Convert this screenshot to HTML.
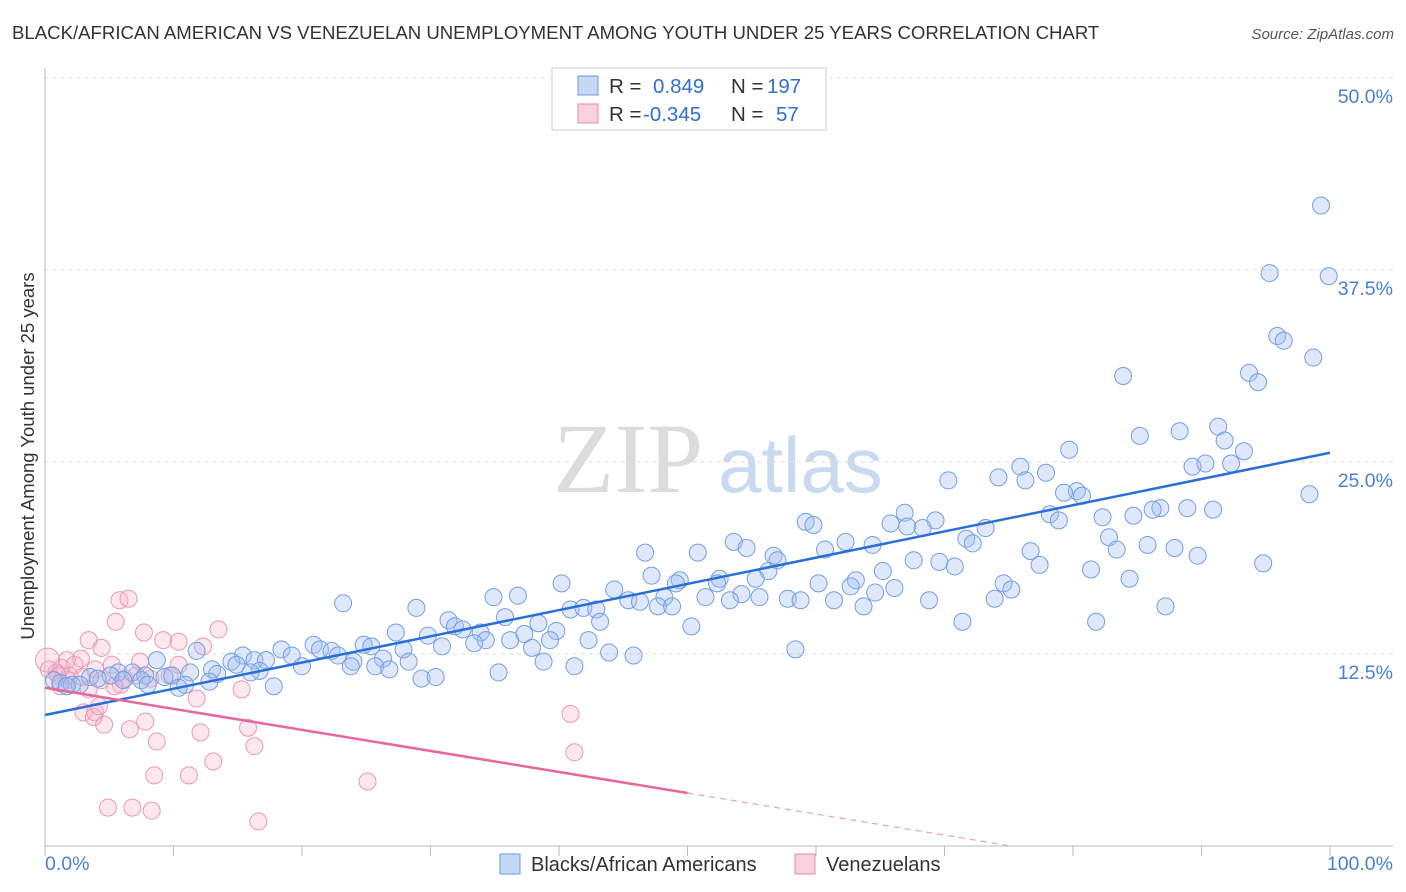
<!DOCTYPE html>
<html><head><meta charset="utf-8">
<style>
body{margin:0;background:#fff;font-family:"Liberation Sans",sans-serif;}
#wrap{position:relative;width:1406px;height:892px;overflow:hidden;}
</style></head>
<body>
<div id="wrap">
<svg id="svg" width="1406" height="892" xmlns="http://www.w3.org/2000/svg">
<text x="12" y="39" font-size="18.6" fill="#333">BLACK/AFRICAN AMERICAN VS VENEZUELAN UNEMPLOYMENT AMONG YOUTH UNDER 25 YEARS CORRELATION CHART</text>
<text x="1394" y="39" font-size="15" fill="#555" font-style="italic" text-anchor="end">Source: ZipAtlas.com</text>
<g id="watermark">
<text x="553" y="492" font-size="100" font-family="Liberation Serif,serif" fill="#dcdcdc">ZIP</text>
<text x="718" y="492" font-size="78" fill="#c9d9f0">atlas</text>
</g>
<g id="grid"></g>
<g id="axes"></g>
<g id="pts"></g>
<g id="lines"></g>
<text transform="translate(34,456) rotate(-90)" font-size="18.5" fill="#333" text-anchor="middle">Unemployment Among Youth under 25 years</text>
<g>
<rect x="552" y="68" width="274" height="62" fill="#fff" stroke="#ccc"/>
<rect x="578" y="76" width="20" height="19" fill="rgba(160,190,240,0.6)" stroke="#6a9ae0"/>
<rect x="578" y="104" width="20" height="19" fill="rgba(245,180,200,0.6)" stroke="#e88aa8"/>
<text x="609" y="93" font-size="20.5" fill="#333">R = </text><text x="653" y="93" font-size="20.5" fill="#2f6fd0">0.849</text>
<text x="731" y="93" font-size="20.5" fill="#333">N = </text><text x="767" y="93" font-size="20.5" fill="#2f6fd0">197</text>
<text x="609" y="121" font-size="20.5" fill="#333">R = </text><text x="643" y="121" font-size="20.5" fill="#2f6fd0">-0.345</text>
<text x="731" y="121" font-size="20.5" fill="#333">N = </text><text x="776" y="121" font-size="20.5" fill="#2f6fd0">57</text>
</g>
<g>
<rect x="500" y="854" width="20" height="20" fill="rgba(160,190,240,0.6)" stroke="#6a9ae0"/>
<text x="531" y="871" font-size="20" fill="#333">Blacks/African Americans</text>
<rect x="795" y="854" width="20" height="20" fill="rgba(245,180,200,0.6)" stroke="#e88aa8"/>
<text x="826" y="871" font-size="20" fill="#333">Venezuelans</text>
</g>
</svg>
</div>
<script>
const yTicks=[12.5,25,37.5,50];
const yTickLabels=["12.5%","25.0%","37.5%","50.0%"];
const xTickCount=[0,10,20,30,40,50,60,70,80,90,100];
const blueX=[99.3,95.3,99.9,95.9,96.4,98.7,83.9,93.7,94.4,91.3,88.3,85.2,91.8,79.7,93.3,89.3,90.3,92.3,75.9,77.9,74.2,76.3,70.3,80.3,79.3,80.7,98.4,84.7,86.8,86.2,88.9,90.9,78.2,78.9,82.3,66.9,69.3,65.8,67.1,68.3,59.2,59.8,73.2,71.7,72.2,82.8,83.4,85.8,87.9,89.7,76.7,77.4,81.4,94.8,84.4,53.6,54.6,62.3,64.4,60.7,46.7,50.8,56.7,57.0,67.6,69.6,70.8,65.2,56.3,47.2,52.5,55.3,49.4,49.1,52.3,63.1,60.2,62.7,74.6,75.2,40.2,44.3,64.6,66.1,54.2,55.6,51.4,53.3,57.8,58.8,61.4,68.8,73.9,48.2,45.4,46.3,34.9,36.8,23.2,28.9,40.9,41.9,42.9,47.7,48.8,63.7,87.2,31.4,35.8,43.2,31.9,32.5,38.4,71.4,81.8,50.3,33.9,37.3,39.8,27.3,29.8,36.2,34.3,33.4,39.3,42.3,30.9,37.9,24.8,25.4,20.9,21.4,18.4,19.2,22.3,22.8,27.9,43.9,45.8,58.4,11.8,15.4,16.3,17.2,26.3,24.0,28.3,38.8,8.7,14.5,14.9,25.7,20.0,23.8,41.2,13.0,16.7,26.8,35.3,5.7,6.8,11.3,13.4,16.0,3.5,5.1,7.8,9.3,9.9,29.3,30.4,4.1,0.7,1.2,2.1,2.7,6.1,7.5,8.0,10.9,12.8,1.7,10.4,17.8];
const blueY=[41.7,37.3,37.1,33.2,32.9,31.8,30.6,30.8,30.2,27.3,27.0,26.7,26.4,25.8,25.7,24.7,24.9,24.9,24.7,24.3,24.0,23.8,23.8,23.1,23.0,22.8,22.9,21.5,22.0,21.9,22.0,21.9,21.6,21.2,21.4,21.7,21.2,21.0,20.8,20.7,21.1,20.9,20.7,20.0,19.7,20.1,19.3,19.6,19.4,18.9,19.2,18.3,18.0,18.4,17.4,19.8,19.4,19.8,19.6,19.3,19.1,19.1,18.9,18.6,18.6,18.5,18.2,17.9,17.9,17.6,17.4,17.4,17.3,17.1,17.1,17.3,17.1,16.9,17.1,16.7,17.1,16.7,16.5,16.8,16.4,16.2,16.2,16.0,16.1,16.0,16.0,16.0,16.1,16.2,16.0,15.9,16.2,16.3,15.8,15.5,15.4,15.5,15.4,15.6,15.6,15.6,15.6,14.7,14.9,14.6,14.3,14.1,14.5,14.6,14.6,14.3,13.9,13.8,14.0,13.9,13.7,13.4,13.4,13.2,13.4,13.4,13.0,12.9,13.1,13.0,13.1,12.8,12.8,12.4,12.7,12.4,12.8,12.6,12.4,12.8,12.7,12.4,12.1,12.1,12.2,12.0,12.0,12.0,12.1,12.0,11.8,11.7,11.7,11.7,11.7,11.5,11.4,11.5,11.3,11.3,11.3,11.3,11.2,11.3,11.0,11.1,11.1,11.0,11.1,10.9,11.0,10.9,10.8,10.6,10.5,10.5,10.8,10.8,10.5,10.5,10.7,10.4,10.3,10.4];
const pinkX=[0.3,0.9,1.3,1.9,2.3,1.8,2.9,1.2,3.4,2.8,3.9,4.4,4.4,3.0,3.9,3.8,4.2,4.6,5.5,5.8,6.5,5.9,6.6,7.7,7.8,7.4,8.7,8.5,9.2,9.7,10.4,10.4,11.2,11.8,12.1,12.3,13.1,13.5,15.3,15.8,16.3,16.6,4.9,6.8,8.3,25.1,40.9,41.2,5.2,6.2,7.1,8.2,1.7,5.4,3.4,1.0,0.2];
const pinkY=[11.5,11.3,11.6,11.1,11.8,10.8,11.0,10.4,13.4,12.2,11.5,12.9,10.8,8.7,8.7,8.4,9.1,7.9,14.6,16.0,16.1,10.5,7.6,13.9,8.1,12.0,6.8,4.6,13.4,11.1,13.3,11.8,4.6,9.6,7.4,13.0,5.5,14.1,10.2,7.7,6.5,1.6,2.5,2.5,2.3,4.2,8.6,6.1,11.8,10.9,11.1,10.9,12.1,10.4,10.2,11.1,12.1];
const blueFit=[8.53,17.07];
const pinkFit=[10.3,-13.7];
const X0=45,X1=1330,YB=846,PXPER=15.36;
const sx=v=>X0+(X1-X0)*v/100;
const sy=v=>YB-v*PXPER;
const NS="http://www.w3.org/2000/svg";
function mk(tag,attrs,parent){const e=document.createElementNS(NS,tag);for(const k in attrs)e.setAttribute(k,attrs[k]);parent.appendChild(e);return e;}
const grid=document.getElementById('grid'),axes=document.getElementById('axes'),pts=document.getElementById('pts'),lines=document.getElementById('lines');
yTicks.forEach((t,i)=>{
  const l=mk('line',{x1:X0,x2:1393,y1:sy(t),y2:sy(t),stroke:'#ddd','stroke-dasharray':'4,4'},grid);
  
  
  const tx=mk('text',{x:1393,y:sy(t)+25,'font-size':19.5,fill:'#4a7fd0','text-anchor':'end'},axes);
  tx.textContent=yTickLabels[i];
  
  
});
const yax=mk('line',{x1:X0,x2:X0,y1:68,y2:YB,stroke:'#bbb'},axes);


const xax=mk('line',{x1:X0,x2:1393,y1:YB,y2:YB,stroke:'#bbb'},axes);


xTickCount.forEach(t=>{
  const tk=mk('line',{x1:sx(t),x2:sx(t),y1:YB,y2:YB+10,stroke:'#bbb'},axes);
  
  
});
const xl0=mk('text',{x:45,y:870,'font-size':19.5,fill:'#4a7fd0'},axes);xl0.textContent='0.0%';


const xl1=mk('text',{x:1393,y:870,'font-size':19.5,fill:'#4a7fd0','text-anchor':'end'},axes);xl1.textContent='100.0%';


pinkX.forEach((x,i)=>{
  const c=mk('circle',{cx:sx(x),cy:sy(pinkY[i]),r:i==pinkX.length-1?12:8.5,fill:'rgba(245,175,200,0.3)',stroke:'#eb98b4','stroke-width':1},pts);
  
  
});
blueX.forEach((x,i)=>{
  const c=mk('circle',{cx:sx(x),cy:sy(blueY[i]),r:8.5,fill:'rgba(160,190,240,0.35)',stroke:'#739fe0','stroke-width':1},pts);
  
  
});
const bl=mk('line',{x1:sx(0),y1:sy(blueFit[0]),x2:sx(100),y2:sy(blueFit[0]+blueFit[1]),stroke:'#2a6fd6','stroke-width':2.5},lines);


const pf=x=>pinkFit[0]+pinkFit[1]*x/100;
const xz=-pinkFit[0]/pinkFit[1]*100;
const pl=mk('line',{x1:sx(0),y1:sy(pf(0)),x2:sx(50),y2:sy(pf(50)),stroke:'#e8679a','stroke-width':2.5},lines);


const pd=mk('line',{x1:sx(50),y1:sy(pf(50)),x2:sx(xz),y2:sy(0),stroke:'#e8a0bb','stroke-width':1.2,'stroke-dasharray':'6,5'},lines);


</script>
</body></html>
